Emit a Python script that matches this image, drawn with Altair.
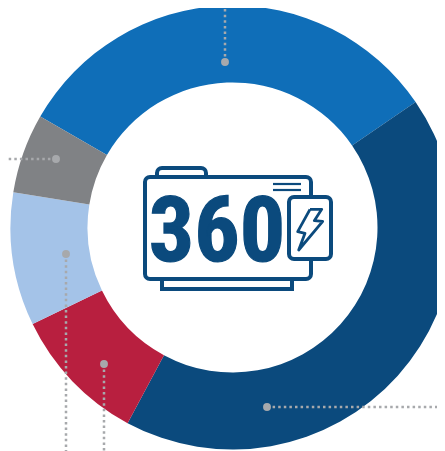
import altair as alt
import pandas as pd

# Donut shares, clockwise from the top-left edge of the mid-blue slice
segments = ["Blue", "Dark blue", "Red", "Light blue", "Gray"]
shares = [32.1, 42.4, 10.0, 9.7, 5.8]
colors = ["#0f6eb8", "#0b4a7d", "#b81f3f", "#a4c3e8", "#808285"]

# Callout leaders in page pixels
leader_x1 = [225, 56, 66, 104, 267]
leader_y1 = [62, 159, 254, 364, 407]
leader_x2 = [225, 0, 66, 104, 445]
leader_y2 = [0, 159, 451, 451, 407]

# Centre icon parts
tab_top = dict(x=157, x2=206, y=168, y2=182)
tab_bottom = dict(x=162, x2=292, y=274, y2=289)
body = dict(x=145, x2=311, y=177, y2=279)
battery = dict(x=289, x2=331, y=197, y2=259)
vent_x1 = [273, 273]
vent_x2 = [301, 301]
vent_y = [184, 190]
bolt_x = [310, 321.7, 314.3, 322.7, 298.7, 305, 297.7, 310]
bolt_y = [209.3, 209.3, 220.7, 221.3, 250, 233.3, 231.7, 209.3]
label = ["360"]

INK = "#0b4a7d"
DOT = "#a7a9ac"
X = alt.Scale(domain=[8, 437], range=[0, 429])
Y = alt.Scale(domain=[8, 451], range=[0, 443])
qx = alt.X("x:Q", scale=X, axis=None)
qy = alt.Y("y:Q", scale=Y, axis=None)

donut_df = pd.DataFrame({"segment": segments, "share": shares, "idx": range(5)})
donut = alt.Chart(donut_df).mark_arc(
    innerRadius=145, outerRadius=222
).encode(
    theta=alt.Theta("share:Q", stack=True, scale=alt.Scale(range=[-1.0472, 5.236])),
    order=alt.Order("idx:Q"),
    color=alt.Color("segment:N", scale=alt.Scale(domain=segments, range=colors), legend=None),
    x=alt.value(224.5),
    y=alt.value(219.5),
)

lead_df = pd.DataFrame({"x": leader_x1, "y": leader_y1, "x2": leader_x2, "y2": leader_y2})
leaders = alt.Chart(lead_df).mark_rule(
    color=DOT, strokeWidth=2.5, strokeDash=[2.5, 3.1], clip=True
).encode(x=qx, y=qy, x2="x2:Q", y2="y2:Q")
dots = alt.Chart(lead_df).mark_circle(size=62, color=DOT, opacity=1).encode(x=qx, y=qy)


def box(spec, radius, width=4):
    return alt.Chart(pd.DataFrame([spec])).mark_rect(
        fill="white", stroke=INK, strokeWidth=width, cornerRadius=radius
    ).encode(x=qx, x2="x2:Q", y=qy, y2="y2:Q")


vents = alt.Chart(pd.DataFrame({"x": vent_x1, "x2": vent_x2, "y": vent_y})).mark_rule(
    color=INK, strokeWidth=2.2
).encode(x=qx, x2="x2:Q", y=qy)

bolt = alt.Chart(pd.DataFrame({"x": bolt_x, "y": bolt_y, "i": range(len(bolt_x))})).mark_line(
    color=INK, strokeWidth=2.8, strokeJoin="round"
).encode(x=qx, y=qy, order="i:Q")

text = alt.Chart(pd.DataFrame({"t": label, "x": [217], "y": [260.5]})).mark_text(
    font="Roboto Condensed, Open Sans Condensed, Liberation Sans", fontWeight="bold", fontSize=90,
    color=INK, stroke=INK, strokeWidth=1.2, align="center", baseline="alphabetic"
).encode(x=qx, y=qy, text="t:N")

chart = alt.layer(
    donut, leaders, dots,
    box(tab_top, 5), box(tab_bottom, 0), box(body, 5),
    vents, text, box(battery, 5), bolt,
).resolve_scale(color="independent").properties(
    width=429, height=443, padding=0, background="white",
    autosize=alt.AutoSizeParams(type="none"),
).configure_view(stroke=None)

chart.save("out.html", embed_options={"renderer": "svg", "actions": False})
